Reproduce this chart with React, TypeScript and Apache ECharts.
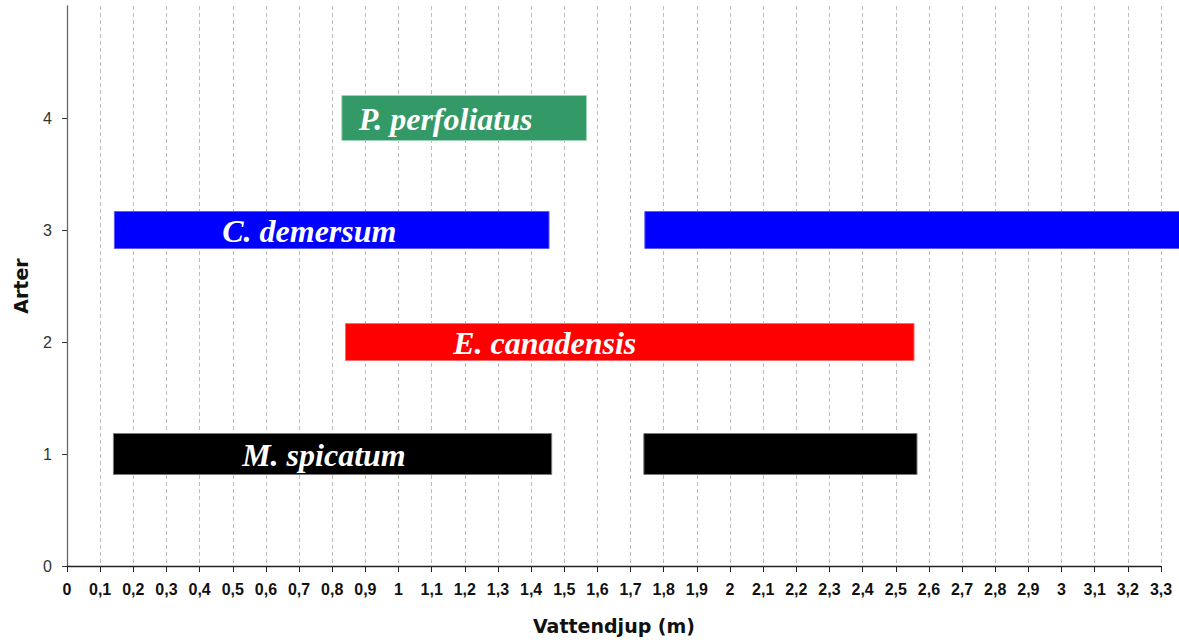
import React, { useEffect, useRef } from "react";
import * as echarts from "echarts";

// Species (bottom to top) and their level on the y axis
const speciesNames = ["M. spicatum", "E. canadensis", "C. demersum", "P. perfoliatus"];
const speciesLevels = [1, 2, 3, 4];
// Depth ranges (m) where each species occurs
const rangeStarts = [[0.14, 1.74], [0.84], [0.143, 1.743], [0.829]];
const rangeEnds = [[1.462, 2.564], [2.555], [1.454, 3.45], [1.567]];
// Depth (m) at which each species label is centred
const labelDepths = [0.775, 1.441, 0.731, 1.142];

const yTicks = [0, 1, 2, 3, 4];

const speciesStyle = [
  { fill: "#000000", stroke: "#7a7a7a", height: 41 },
  { fill: "#ff0000", stroke: "#ff6a6a", height: 37 },
  { fill: "#0000ff", stroke: "#5a5aff", height: 37 },
  { fill: "#339966", stroke: "#9fd6b8", height: 45 },
];

const fmt = (v: number) => Number(v.toFixed(1)).toString().replace(".", ",");

export default function App() {
  const ref = useRef<HTMLDivElement>(null);
  useEffect(() => {
    if (!ref.current) return;
    const chart = echarts.init(ref.current, null, { renderer: "svg" });

    const barSeries = speciesNames.map((name, i) => ({
      type: "custom",
      name,
      clip: false,
      silent: true,
      data: rangeStarts[i].map((s, j) => [s, rangeEnds[i][j], speciesLevels[i]]),
      encode: { x: [0, 1], y: 2 },
      renderItem: (params: any, api: any) => {
        const st = speciesStyle[i];
        const p0 = api.coord([api.value(0), api.value(2)]);
        const p1 = api.coord([api.value(1), api.value(2)]);
        return {
          type: "rect",
          shape: { x: p0[0], y: p0[1] - st.height / 2, width: p1[0] - p0[0], height: st.height },
          style: { fill: st.fill, stroke: st.stroke, lineWidth: 1 },
        };
      },
      z: 2,
    }));

    const labelSeries = {
      type: "custom",
      name: "labels",
      clip: false,
      silent: true,
      data: speciesNames.map((n, i) => [labelDepths[i], speciesLevels[i], n]),
      encode: { x: 0, y: 1 },
      renderItem: (params: any, api: any) => {
        const p = api.coord([api.value(0), api.value(1)]);
        return {
          type: "text",
          x: p[0],
          y: p[1] + 1,
          style: {
            text: speciesNames[params.dataIndex],
            fill: "#ffffff",
            font: "italic bold 32px 'Liberation Serif', 'Times New Roman', serif",
            align: "center",
            verticalAlign: "middle",
          },
        };
      },
      z: 5,
    };

    chart.setOption({
      animation: false,
      backgroundColor: "#ffffff",
      grid: { left: 67, right: 18, top: 6, bottom: 78, containLabel: false, outerBoundsMode: "none" },
      xAxis: {
        type: "value",
        min: 0,
        max: 3.3,
        interval: 0.1,
        name: "Vattendjup (m)",
        nameLocation: "middle",
        nameGap: 50,
        nameTextStyle: {
          fontFamily: "DejaVu Sans",
          fontWeight: "bold",
          fontSize: 19,
          color: "#111",
        },
        axisLine: { show: true, lineStyle: { color: "#222", width: 1.3 } },
        axisTick: { show: true, length: 6, lineStyle: { color: "#222" } },
        axisLabel: {
          formatter: fmt,
          margin: 15,
          fontFamily: "Liberation Sans",
          fontWeight: "bold",
          fontSize: 16,
          color: "#111",
        },
        splitLine: {
          show: true,
          lineStyle: { color: "#bdbdbd", type: [4, 3], width: 1 },
        },
      },
      yAxis: {
        type: "value",
        min: 0,
        max: 5,
        interval: 1,
        name: "Arter",
        nameLocation: "middle",
        nameRotate: 90,
        nameGap: 37,
        nameTextStyle: {
          fontFamily: "DejaVu Sans",
          fontWeight: "bold",
          fontSize: 19,
          color: "#111",
        },
        axisLine: { show: true, lineStyle: { color: "#666", width: 1.3 } },
        axisTick: { show: true, length: 5, inside: false, customValues: yTicks, lineStyle: { color: "#333" } },
        axisLabel: {
          customValues: yTicks,
          formatter: (v: number) => (v > 4 ? "" : String(v)),
          margin: 15,
          fontFamily: "Liberation Sans",
          fontSize: 16,
          color: "#333",
        },
        splitLine: { show: false },
      },
      series: [...barSeries, labelSeries],
    } as any);

    return () => chart.dispose();
  }, []);

  return (
    <div
      ref={ref}
      style={{ position: "fixed", left: 0, top: 0, width: 1179, height: 644 }}
    />
  );
}
